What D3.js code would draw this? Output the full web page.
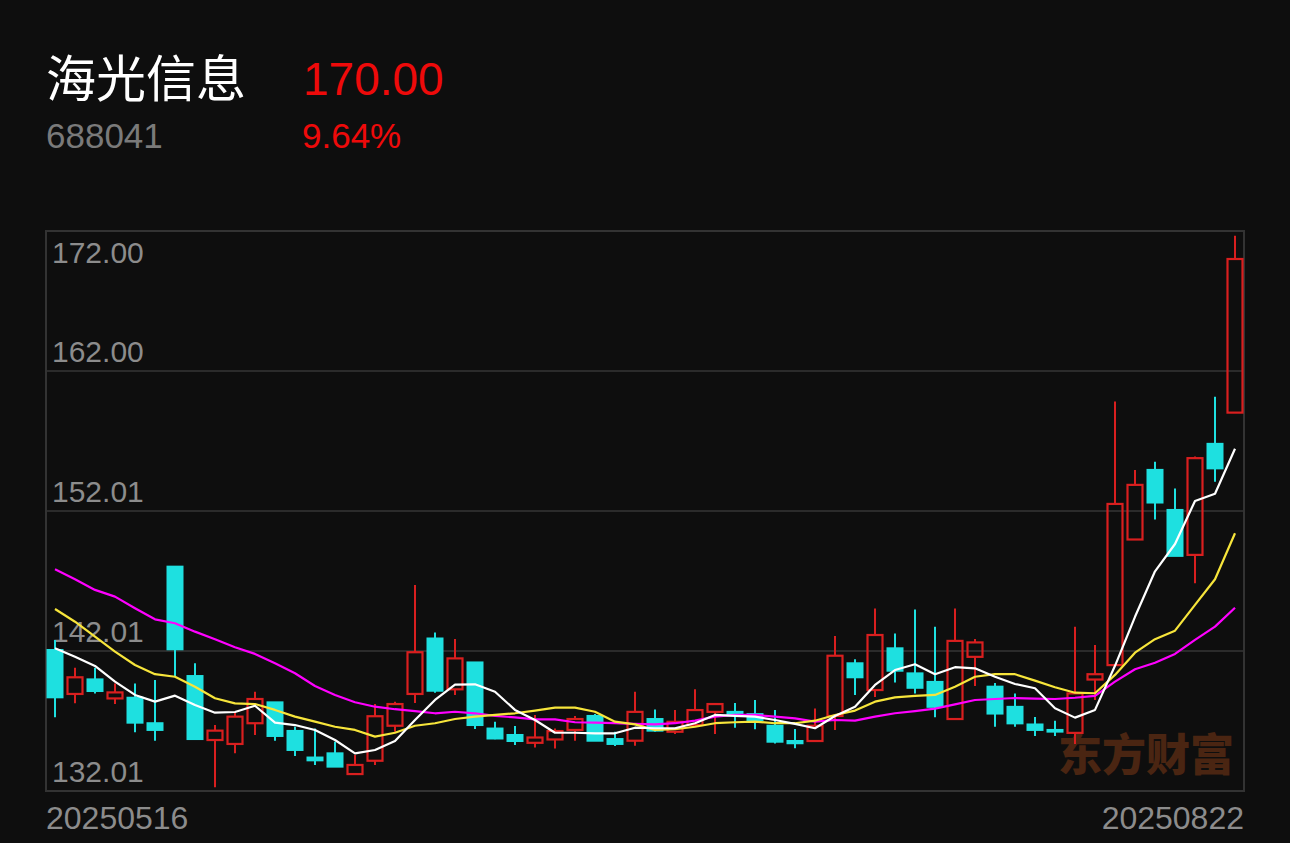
<!DOCTYPE html>
<html>
<head>
<meta charset="utf-8">
<script src="https://cdn.jsdelivr.net/npm/d3@7"></script>
<style>
  html, body { margin: 0; padding: 0; background: #0e0e0e; }
  svg { display: block; }
</style>
</head>
<body>
<svg id="chart" width="1290" height="843"></svg>
<script>
// ---- data ----
const stockName = "海光信息";
const stockCode = "688041";
const lastPrice = "170.00";
const changePct = "9.64%";
const dateLabels = ["20250516", "20250822"];
const yTickValues = [132.01, 142.01, 152.01, 162.00, 172.00];
const yTickLabels = ["132.01", "142.01", "152.01", "162.00", "172.00"];

const open  = [142.08,138.94,139.98,138.62,138.67,136.85,148.03,140.22,135.65,135.37,
               136.85,138.34,136.30,134.40,134.70,133.22,134.17,136.67,138.94,142.90,
               139.27,141.19,136.47,136.01,135.45,135.69,136.37,137.37,135.72,135.60,
               137.15,136.24,136.72,137.66,137.66,137.50,136.67,135.58,135.58,137.37,
               141.13,139.22,142.20,140.41,139.80,137.15,141.59,139.46,138.02,136.76,
               136.37,136.16,139.97,141.00,149.97,154.94,152.08,148.87,156.80,159.03];
const high  = [142.80,140.82,140.82,139.69,139.69,139.94,148.03,141.13,136.72,137.60,
               139.10,138.34,136.59,136.48,135.53,134.58,138.22,138.38,146.72,143.33,
               142.86,141.19,136.95,136.65,137.44,136.48,137.37,137.50,136.24,139.10,
               137.83,137.79,139.27,138.22,138.30,138.51,137.79,136.44,137.90,143.08,
               141.41,145.05,143.26,144.97,143.74,145.05,142.86,139.73,138.98,137.30,
               137.02,143.74,142.44,159.82,154.94,155.53,153.62,155.90,160.16,171.66];
const low   = [137.27,138.27,138.98,138.22,136.20,135.60,140.17,135.67,132.27,134.70,
               136.01,135.60,134.51,133.87,133.75,133.22,133.87,136.24,138.30,139.03,
               138.87,136.43,135.71,135.30,135.12,135.05,135.60,135.60,135.22,135.25,
               136.24,136.08,136.72,136.08,136.53,136.42,135.40,135.06,135.58,136.37,
               138.87,138.73,139.76,138.98,137.27,137.15,139.51,136.59,136.59,135.94,
               135.94,135.37,138.51,141.00,149.97,151.40,148.80,146.84,154.09,159.03];
const close = [138.70,140.13,139.15,139.05,136.89,136.37,142.13,135.72,136.32,137.32,
               138.58,135.94,134.94,134.20,133.75,133.87,137.35,138.22,141.92,139.17,
               141.48,136.72,135.76,135.58,135.83,136.29,137.15,135.60,135.37,137.66,
               136.32,136.95,137.79,138.22,137.42,137.08,135.53,135.42,136.67,141.67,
               140.13,143.15,140.60,139.38,138.02,142.73,142.62,137.54,136.84,136.37,
               136.25,138.98,140.35,152.51,153.87,152.61,148.80,155.78,155.05,170.00];

const ma5  = [142.20,141.60,140.94,139.82,138.87,138.39,138.82,138.15,137.60,137.65,
              138.10,136.89,136.72,136.37,135.65,134.70,134.94,135.58,137.08,138.51,
              139.60,139.63,139.10,137.80,137.08,136.17,136.17,136.13,136.13,136.53,
              136.49,136.49,136.85,137.44,137.37,137.32,137.08,136.80,136.49,137.37,
              138.03,139.58,140.65,141.06,140.35,140.85,140.77,140.17,139.65,139.35,
              137.92,137.25,137.80,140.95,144.45,147.70,149.65,152.72,153.24,156.45];
const ma10 = [145.01,144.10,143.03,141.96,141.01,140.35,140.17,139.46,138.63,138.27,
              138.22,137.80,137.32,136.96,136.60,136.37,135.89,136.17,136.67,136.85,
              137.15,137.32,137.44,137.56,137.75,137.96,137.96,137.67,136.96,136.77,
              136.37,136.42,136.60,136.85,136.92,136.96,136.85,136.85,137.03,137.44,
              137.75,138.39,138.70,138.80,138.87,139.46,140.17,140.35,140.35,139.89,
              139.42,139.03,138.99,140.30,141.89,142.85,143.46,145.30,147.13,150.42];
const ma20 = [147.85,147.13,146.37,145.89,145.06,144.27,143.99,143.39,142.85,142.27,
              141.80,141.13,140.42,139.51,138.87,138.35,138.03,137.85,137.72,137.56,
              137.67,137.56,137.37,137.27,137.13,137.13,136.92,136.89,136.85,136.80,
              136.77,136.85,137.03,137.32,137.44,137.44,137.32,137.20,136.96,137.08,
              137.03,137.32,137.56,137.72,137.89,138.20,138.51,138.58,138.65,138.60,
              138.58,138.67,138.80,139.82,140.70,141.17,141.80,142.80,143.75,145.10];

// ---- drawing ----
const svg = d3.select("#chart");
const W = 1290, H = 843;
const plot = { left: 46, right: 1244, top: 231, bottom: 791 };
const idx = d3.range(close.length);

const x = d3.scaleBand().domain(idx).range([45, 1245]).paddingInner(0.25).paddingOuter(0.125);
const cx = i => x(i) + x.bandwidth() / 2;
const y = d3.scaleLinear().domain([132.01, 172.00]).range([plot.bottom, plot.top]);

const RED = "#d91f1f", CYAN = "#1ee0e0";
const numFont = "'Liberation Sans', Arial, 'Noto Sans', sans-serif";
const cjkFont = "'Noto Sans CJK SC', 'Noto Sans', sans-serif";

svg.append("rect").attr("width", W).attr("height", H).attr("fill", "#0e0e0e");

// header
svg.append("text").attr("x", 46).attr("y", 97).attr("fill", "#ffffff")
  .attr("font-family", cjkFont).attr("font-size", 50).text(stockName);
svg.append("text").attr("x", 303).attr("y", 95).attr("fill", "#ee0a0a")
  .attr("font-family", numFont).attr("font-size", 46).text(lastPrice);
svg.append("text").attr("x", 46).attr("y", 148).attr("fill", "#7a7a7a")
  .attr("font-family", numFont).attr("font-size", 35).text(stockCode);
svg.append("text").attr("x", 302).attr("y", 148).attr("fill", "#ee0a0a")
  .attr("font-family", numFont).attr("font-size", 35).text(changePct);

// grid
const grid = svg.append("g");
grid.selectAll("line").data(yTickValues.slice(1, -1)).join("line")
  .attr("x1", plot.left).attr("x2", plot.right)
  .attr("y1", d => Math.round(y(d))).attr("y2", d => Math.round(y(d)))
  .attr("stroke", "#2b2b2b").attr("stroke-width", 2);
svg.append("rect").attr("x", plot.left).attr("y", plot.top)
  .attr("width", plot.right - plot.left).attr("height", plot.bottom - plot.top)
  .attr("fill", "none").attr("stroke", "#333333").attr("stroke-width", 2);

// y-axis labels (inside plot)
svg.append("g").selectAll("text").data(yTickValues).join("text")
  .attr("x", 52)
  .attr("y", (d, i) => i === yTickValues.length - 1 ? y(d) + 32 : y(d) - 9)
  .attr("fill", "#8c8c8c").attr("font-family", numFont).attr("font-size", 30)
  .text((d, i) => yTickLabels[i]);

// watermark
svg.append("text").attr("x", 1058).attr("y", 771).attr("fill", "#4a2512")
  .attr("font-family", cjkFont).attr("font-weight", 900).attr("font-size", 44)
  .text("东方财富");

// candles
const g = svg.append("g");
const bw = x.bandwidth();
idx.forEach(i => {
  const up = close[i] >= open[i];
  const col = up ? RED : CYAN;
  const top = y(Math.max(open[i], close[i]));
  const bot = y(Math.min(open[i], close[i]));
  const hY = y(high[i]), lY = y(low[i]);
  const c = cx(i);
  if (up) {
    if (top - hY > 0.5) g.append("line").attr("x1", c).attr("x2", c).attr("y1", hY).attr("y2", top)
      .attr("stroke", col).attr("stroke-width", 2);
    if (lY - bot > 0.5) g.append("line").attr("x1", c).attr("x2", c).attr("y1", bot).attr("y2", lY)
      .attr("stroke", col).attr("stroke-width", 2);
    g.append("rect").attr("x", c - bw / 2).attr("y", top).attr("width", bw)
      .attr("height", Math.max(1, bot - top))
      .attr("fill", "none").attr("stroke", col).attr("stroke-width", 2.2);
  } else {
    g.append("line").attr("x1", c).attr("x2", c).attr("y1", hY).attr("y2", lY)
      .attr("stroke", col).attr("stroke-width", 2);
    g.append("rect").attr("x", c - bw / 2 - 1).attr("y", top - 1).attr("width", bw + 2)
      .attr("height", Math.max(2, bot - top + 2)).attr("fill", col);
  }
});

// moving averages
const line = d3.line().x((d, i) => cx(i)).y(d => y(d));
[[ma20, "#ff00ff"], [ma10, "#f7e53b"], [ma5, "#ffffff"]].forEach(([s, col]) => {
  svg.append("path").attr("d", line(s)).attr("fill", "none")
    .attr("stroke", col).attr("stroke-width", 2.2).attr("stroke-linejoin", "round");
});

// x labels
svg.append("text").attr("x", 46).attr("y", 829).attr("fill", "#8c8c8c")
  .attr("font-family", numFont).attr("font-size", 32).text(dateLabels[0]);
svg.append("text").attr("x", 1244).attr("y", 829).attr("text-anchor", "end").attr("fill", "#8c8c8c")
  .attr("font-family", numFont).attr("font-size", 32).text(dateLabels[1]);
</script>
</body>
</html>
